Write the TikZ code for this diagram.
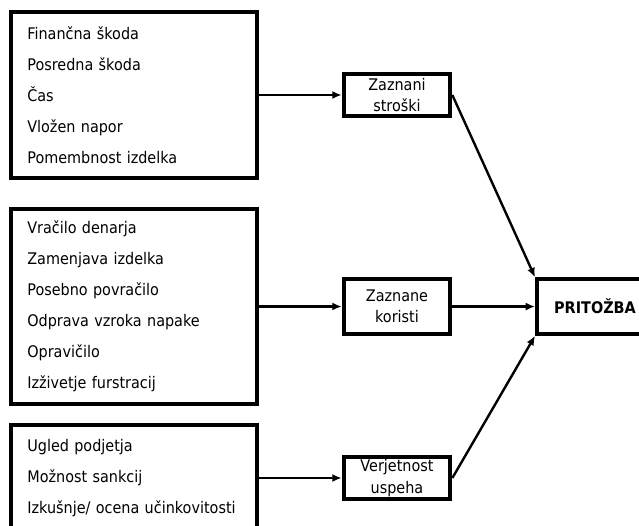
\documentclass[tikz,border=0pt]{standalone}
\usepackage{fontspec}
\setmainfont{DejaVu Sans}[FakeStretch=0.9]
\usetikzlibrary{arrows.meta,positioning}

\begin{document}
\begin{tikzpicture}[font=\fontsize{12}{16}\selectfont,node distance=62pt,
    factors/.style={draw,line width=3pt,align=left,text width=160pt,
      inner xsep=12.25pt,minimum height=#1,font=\fontsize{12}{23.25}\selectfont},
    judge/.style={draw,line width=3pt,align=center,minimum width=80pt,
      inner sep=1pt,minimum height=#1},
    link/.style={line width=1.8pt,-{Latex[length=7pt,width=6pt]}}]
    \clip (0,0) rectangle (479.25pt,-393.75pt);
    \node[factors=124.5pt] (costs) at (100.5pt,-71.25pt)
      {Finančna škoda\\Posredna škoda\\Čas\\Vložen napor\\Pomembnost izdelka};
    \node[factors=146.25pt] (gains) at (100.5pt,-229.9pt)
      {Vračilo denarja\\Zamenjava izdelka\\Posebno povračilo\\Odprava vzroka napake\\Opravičilo\\Izživetje furstracij};
    \node[factors=79.5pt] (odds) at (100.5pt,-358.5pt)
      {Ugled podjetja\\Možnost sankcij\\Izkušnje/ ocena učinkovitosti};
    \node[judge=32pt,right=of costs] (stroski) {Zaznani\\stroški};
    \node[judge=41pt,right=of gains] (koristi) {Zaznane\\koristi};
    \node[judge=31.5pt,right=of odds] (uspeh) {Verjetnost\\uspeha};
    \node[judge=41pt,minimum width=87pt,right=of koristi] (pr) {\textbf{PRITOŽBA}};
    \draw[link] (costs) -- (stroski);
    \draw[link] (gains) -- (koristi);
    \draw[link] (odds) -- (uspeh);
    \draw[link] (stroski.east) -- (pr.north west);
    \draw[link] (koristi) -- (pr);
    \draw[link] (uspeh.east) -- (pr.south west);
\end{tikzpicture}
\end{document}
